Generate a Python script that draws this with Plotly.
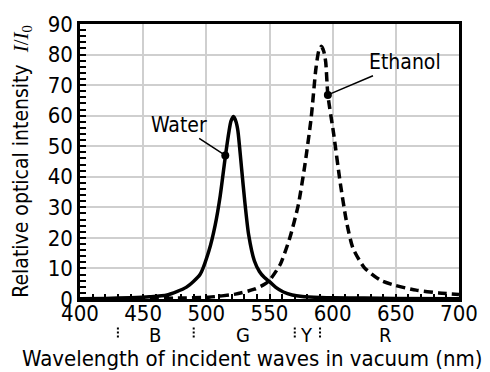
import plotly.graph_objects as go

# ---- data ----
water_wl = [400, 420, 440, 455, 469, 484, 495, 502, 507, 511, 515, 518, 519.5, 521.5, 523.5, 525, 528, 530.5, 533.5, 538, 542, 546, 550, 555, 561, 568, 576, 590, 600, 625, 650, 700]
water_I  = [0.1, 0.2, 0.4, 0.7, 1.3, 3.8, 8.0, 15.7, 24.2, 33.8, 46.5, 55.0, 58.2, 59.7, 58.0, 55.0, 42.3, 31.6, 21.0, 12.5, 9.0, 7.0, 5.7, 3.8, 2.3, 1.3, 0.8, 0.5, 0.4, 0.3, 0.2, 0.1]

ethanol_wl = [400, 430, 455, 477, 502, 523, 538, 546, 550, 558.6, 566, 572.7, 577.8, 583, 586.7, 589, 591, 593, 594.5, 596.2, 600.8, 606, 611, 616, 625, 638, 649, 666, 684, 700]
ethanol_I  = [0.0, 0.1, 0.2, 0.3, 0.6, 1.6, 3.2, 4.8, 6.1, 11.4, 19.9, 30.6, 43.3, 59.3, 75.3, 81.2, 82.7, 81.0, 77.5, 66.8, 54.0, 38.0, 25.2, 16.7, 10.3, 6.1, 4.5, 2.9, 2.0, 1.5]

water_label = "Water"
water_pt = (515, 47)
water_text_pos = (478, 57)
ethanol_label = "Ethanol"
ethanol_pt = (596.2, 66.8)
ethanol_text_pos = (657, 77.5)

band_edges = [430, 490, 570, 590]
band_labels = ["B", "G", "Y", "R"]
band_centers = [459, 529, 579, 642]

x_title = "Wavelength of incident waves in vacuum (nm)"
y_title = ("Relative optical intensity&nbsp;&nbsp;<span style=\"font-family:'Liberation Serif'\">"
           "<i>I</i>/<i>I</i><sub>0</sub></span>")

FONT = "DejaVu Sans Condensed, DejaVu Sans, sans-serif"

fig = go.Figure()
fig.add_trace(go.Scatter(x=water_wl, y=water_I, mode="lines",
                         line=dict(color="black", width=3.5, shape="spline", smoothing=0.6),
                         showlegend=False, hoverinfo="skip"))
fig.add_trace(go.Scatter(x=ethanol_wl, y=ethanol_I, mode="lines",
                         line=dict(color="black", width=3.5, dash="9px,5px", shape="spline", smoothing=0.6),
                         showlegend=False, hoverinfo="skip"))
fig.add_trace(go.Scatter(x=[water_pt[0], ethanol_pt[0]], y=[water_pt[1], ethanol_pt[1]], mode="markers",
                         marker=dict(color="black", size=8), showlegend=False, hoverinfo="skip"))
# invisible trace carrying the label-only axis
fig.add_trace(go.Scatter(x=[water_wl[0]], y=[None], xaxis="x2", mode="markers",
                         showlegend=False, hoverinfo="skip"))

for pt, tp, lab in [(water_pt, water_text_pos, water_label), (ethanol_pt, ethanol_text_pos, ethanol_label)]:
    fig.add_annotation(x=pt[0], y=pt[1], ax=tp[0], ay=tp[1], axref="x", ayref="y", xref="x", yref="y",
                       text=lab, showarrow=True, arrowhead=0, arrowwidth=1.5, arrowcolor="black",
                       font=dict(family=FONT, size=21, color="black"))

for c, lab in zip(band_centers, band_labels):
    fig.add_annotation(x=c, y=-0.132, xref="x", yref="paper", text=lab, showarrow=False,
                       font=dict(family=FONT, size=20, color="black"), yanchor="middle")
for e in band_edges:
    fig.add_shape(type="line", xref="x", yref="paper", x0=e, x1=e, y0=-0.104, y1=-0.14,
                  line=dict(color="black", width=2, dash="2px,2px"))

fig.add_annotation(x=0.455, y=-0.217, xref="paper", yref="paper", text=x_title, showarrow=False,
                   xanchor="center", yanchor="middle", font=dict(family=FONT, size=22, color="black"))
fig.add_annotation(x=-0.155, y=0.5, xref="paper", yref="paper", text=y_title, showarrow=False,
                   textangle=-90, xanchor="center", yanchor="middle",
                   font=dict(family=FONT, size=21, color="black"))

fig.update_layout(
    xaxis=dict(range=[400, 700], dtick=50, tick0=400, showgrid=True, gridcolor="#cfcfcf", gridwidth=1.5,
               ticks="inside", ticklen=5, tickwidth=1.5, tickcolor="black", showticklabels=False,
               minor=dict(dtick=10, ticks="inside", ticklen=5, tickwidth=1.5, tickcolor="black", showgrid=False),
               showline=True, linecolor="black", linewidth=2.5, mirror=True, zeroline=False),
    xaxis2=dict(range=[400, 700], dtick=50, tick0=400, overlaying="x", anchor="free", position=0.005,
                side="bottom", showgrid=False, showline=False, ticks="", zeroline=False,
                tickfont=dict(family=FONT, size=22, color="black")),
    yaxis=dict(range=[0, 90], dtick=10, showgrid=True, gridcolor="#cfcfcf", gridwidth=1.5,
               ticks="inside", ticklen=6, tickwidth=1.5, tickcolor="black",
               minor=dict(dtick=2, ticks="inside", ticklen=6, tickwidth=1.5, tickcolor="black", showgrid=False),
               showline=True, linecolor="black", linewidth=2.5, mirror=True, zeroline=False,
               tickfont=dict(family=FONT, size=22, color="black")),
    width=490, height=372, margin=dict(l=80, r=19, t=17, b=73),
    paper_bgcolor="white", plot_bgcolor="white")

fig.write_html("out.html")
